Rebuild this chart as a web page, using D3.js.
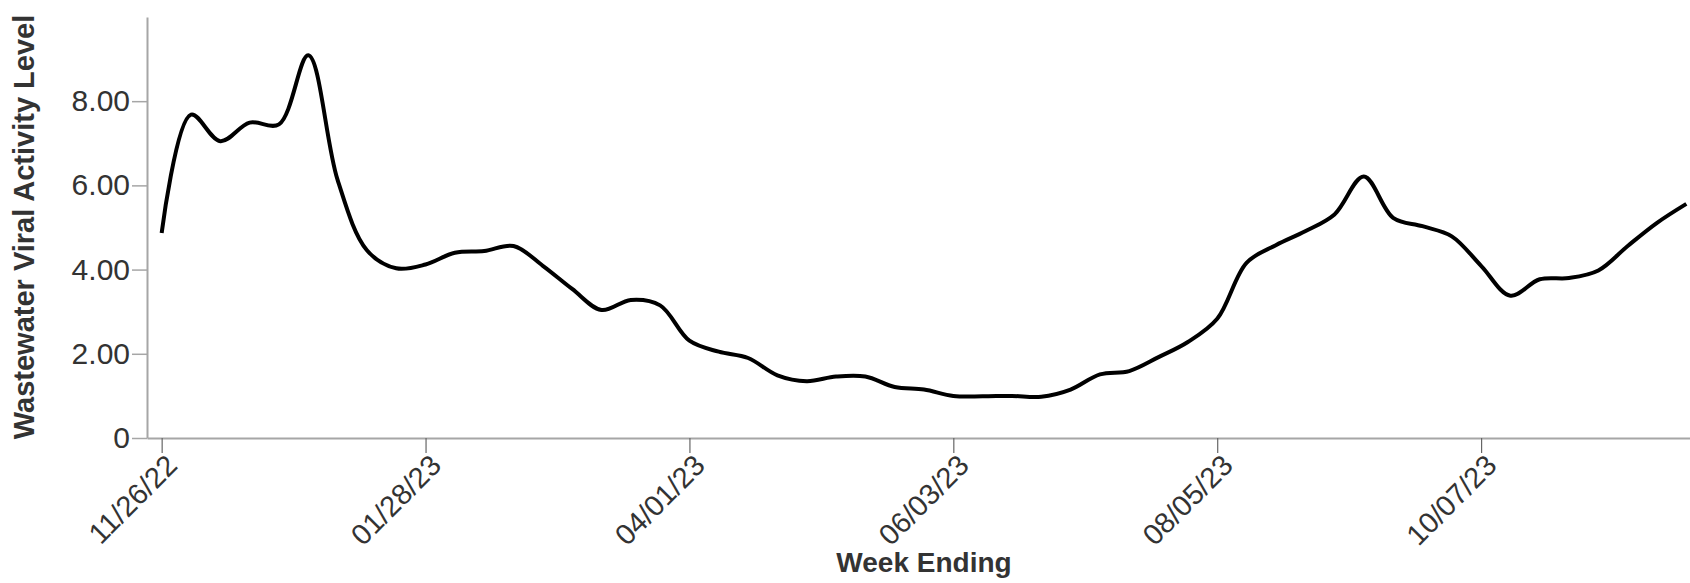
<!DOCTYPE html>
<html>
<head>
<meta charset="utf-8">
<script src="https://cdn.jsdelivr.net/npm/d3@7"></script>
<style>
  html,body{margin:0;padding:0;background:#fff;overflow:hidden;}
  svg{display:block;font-family:"Liberation Sans",Arial,Helvetica,sans-serif;}
</style>
</head>
<body>
<div id="chart"></div>
<script>
// Wochenwerte ab 26.11.2022, jeweils Samstag (Week Ending)
const startWeek = "2022-11-26";
const levels = [
  4.87, 7.68, 7.05, 7.49, 7.45, 9.09, 6.13, 4.46, 4.03, 4.12,
  4.40, 4.44, 4.56, 4.09, 3.54, 3.04, 3.28, 3.15, 2.31, 2.05,
  1.90, 1.49, 1.35, 1.46, 1.46, 1.21, 1.15, 1.00, 0.99, 1.00,
  0.98, 1.15, 1.51, 1.59, 1.92, 2.28, 2.83, 4.16, 4.58, 4.91,
  5.31, 6.21, 5.23, 5.03, 4.79, 4.09, 3.38, 3.77, 3.80, 3.98,
  4.56, 5.11, 5.56
];
const yTicks = [0, 2, 4, 6, 8];
const xTickEvery = 9; // jede 9. Woche beschriftet

const parse = d3.utcParse("%Y-%m-%d");
const t0 = parse(startWeek);
const data = levels.map((v,i)=>({date:d3.utcDay.offset(t0, i*7), v}));

const W = 1690, H = 583;
const m = {l:147, t:17, b:438};
const svg = d3.select("#chart").append("svg").attr("width",W).attr("height",H);

const half = 3.5;
const x = d3.scaleUtc()
  .domain([d3.utcHour.offset(data[0].date, -half*24), d3.utcHour.offset(data[data.length-1].date, half*24)])
  .range([m.l, 1701]);
const y = d3.scaleLinear().domain([0, d3.max(levels)*1.1]).range([m.b, m.t]);

const fmtY = d=> d===0 ? "0" : d3.format(".2f")(d);
const fmtX = d3.utcFormat("%m/%d/%y");

// y-Achse
const gy = svg.append("g").attr("transform",`translate(${m.l},0)`)
  .call(d3.axisLeft(y).tickValues(yTicks).tickFormat(fmtY).tickSize(15).tickSizeOuter(0).tickPadding(2));
gy.select(".domain").attr("stroke","#a6a6a6").attr("stroke-width",2);
gy.selectAll(".tick line").attr("stroke","#a6a6a6").attr("stroke-width",1.5);
gy.selectAll(".tick text").attr("font-size",30).attr("fill","#333");

// x-Achse
const xTicks = data.filter((d,i)=>i%xTickEvery===0).map(d=>d.date);
const gx = svg.append("g").attr("transform",`translate(0,${m.b})`)
  .call(d3.axisBottom(x).tickValues(xTicks).tickFormat(fmtX).tickSize(15).tickSizeOuter(0));
gx.select(".domain").attr("stroke","#a6a6a6").attr("stroke-width",2);
gx.selectAll(".tick line").attr("stroke","#666").attr("stroke-width",1.2);
gx.selectAll(".tick text").attr("font-size",29).attr("fill","#333")
  .attr("text-anchor","end").attr("dx","-0.3em").attr("dy","0.5em")
  .attr("transform","rotate(-45)");

// Linie
const line = d3.line().x(d=>x(d.date)).y(d=>y(d.v)).curve(d3.curveCatmullRom);
svg.append("path").datum(data).attr("d",line)
  .attr("fill","none").attr("stroke","#000").attr("stroke-width",4).attr("stroke-linejoin","round");

// Achsentitel
svg.append("text").attr("transform","translate(34,227) rotate(-90)")
  .attr("text-anchor","middle").attr("font-size",29).attr("font-weight","bold").attr("fill","#333")
  .text("Wastewater Viral Activity Level");
svg.append("text").attr("x",924).attr("y",572)
  .attr("text-anchor","middle").attr("font-size",28).attr("font-weight","bold").attr("fill","#333")
  .text("Week Ending");
</script>
</body>
</html>
